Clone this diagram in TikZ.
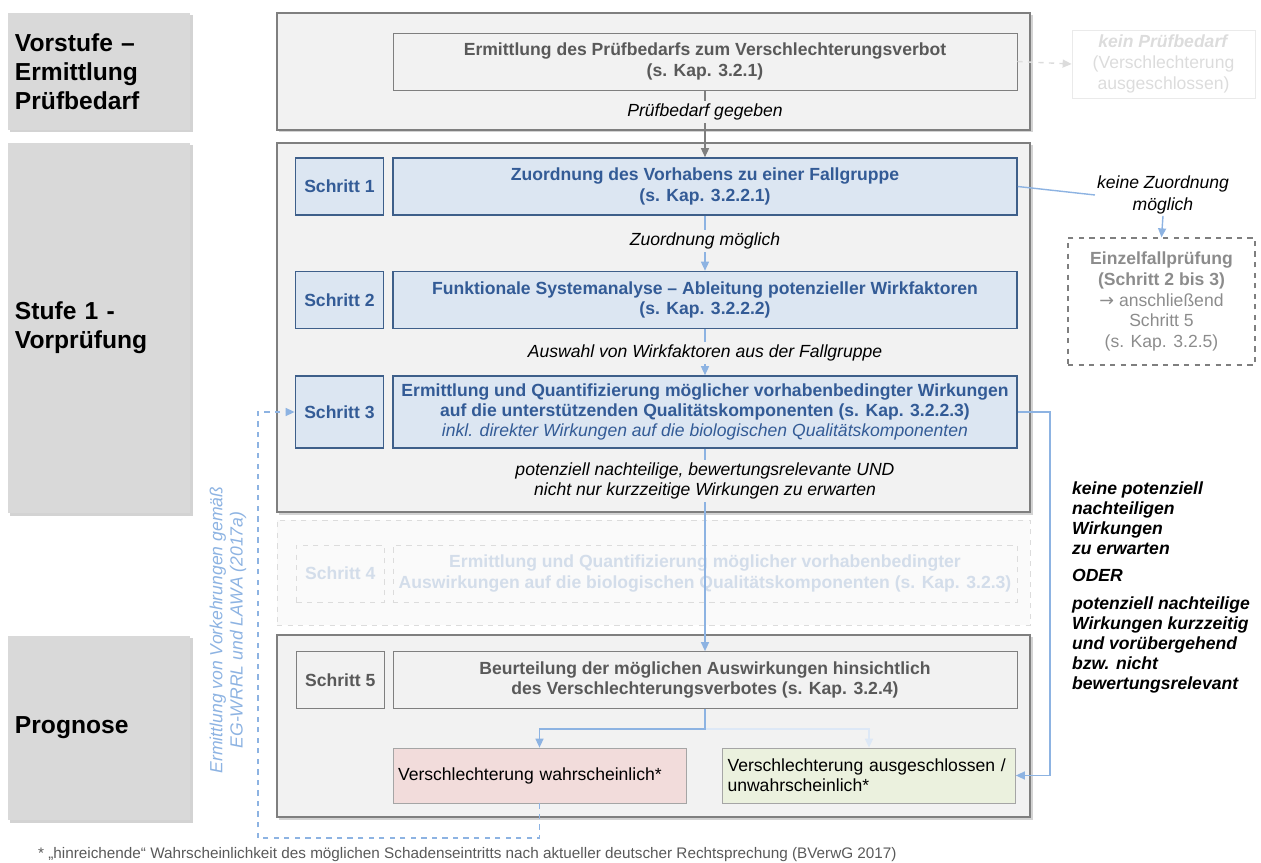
\documentclass[tikz,border=0pt]{standalone}
\usepackage{fontspec}
\setmainfont{Liberation Sans}
\newfontfamily\symfont{DejaVu Sans}
\usetikzlibrary{arrows.meta,positioning,shadows}
\definecolor{stagegray}{HTML}{D9D9D9}
\definecolor{panelfill}{HTML}{F2F2F2}
\definecolor{panelline}{HTML}{7F7F7F}
\definecolor{textgray}{HTML}{595959}
\definecolor{bluefill}{HTML}{DCE6F2}
\definecolor{bluedark}{HTML}{3E5F8A}
\definecolor{bluetext}{HTML}{335B96}
\definecolor{arrowblue}{HTML}{8DB3E2}
\definecolor{ghostline}{HTML}{DCDCDC}
\definecolor{ghostfill}{HTML}{FAFAFA}
\definecolor{ghosttext}{HTML}{D3DDEA}
\definecolor{redfill}{HTML}{F2DCDB}
\definecolor{greenfill}{HTML}{EBF1DE}
\definecolor{einzelgray}{HTML}{8C8C8C}

\begin{document}
\begin{tikzpicture}[x=0.2mm,y=-0.2mm,node distance=1.6mm, every node/.style={align=center,inner sep=1pt},
 stage/.style={fill=stagegray,minimum width=36.4mm,text width=33.6mm,align=left,font=\bfseries\fontsize{14}{16.5}\selectfont,drop shadow={shadow xshift=0.5mm,shadow yshift=-0.5mm,opacity=0.35}},
 panel/.style={draw=panelline,fill=panelfill,line width=0.7pt,minimum width=150.6mm,drop shadow={shadow xshift=0.5mm,shadow yshift=-0.5mm,opacity=0.35}},
 ghost/.style={draw=ghostline,dashed,fill=ghostfill,minimum width=150.6mm},
 main/.style={draw=panelline,fill=panelfill,minimum width=124.8mm,minimum height=11.4mm,font=\bfseries\fontsize{10}{11.5}\selectfont,text=textgray},
 bmain/.style={main,draw=bluedark,fill=bluefill,text=bluetext,line width=0.9pt},
 stepbox/.style={main,minimum width=17.6mm},
 bstep/.style={bmain,minimum width=17.6mm},
 lbl/.style={fill=panelfill,font=\itshape\fontsize{10}{11.5}\selectfont,inner sep=1.5pt},
 result/.style={draw=panelline!70,minimum width=58.6mm,minimum height=11mm,text width=56.6mm,align=left,font=\fontsize{10}{11.5}\selectfont},
 a/.style={-{Triangle[length=1.8mm,width=1.6mm]},draw=arrowblue,line width=0.8pt},
 ga/.style={a,draw=panelline}]
\useasboundingbox (0,0) rectangle (1261,863);
% Stufen links
\node[stage,minimum height=23.4mm] (st0) at (99,71.5) {Vorstufe --\\Ermittlung\\Prüfbedarf};
\node[stage,minimum height=74mm] (st1) at (99,328) {Stufe 1 -\\Vorprüfung};
\node[stage,minimum height=36.8mm] (st2) at (99,728) {Prognose};
% Rahmen
\node[panel,minimum height=23.4mm] (p0) at (653.5,71.5) {};
\node[panel,minimum height=73.8mm] (p1) at (653.5,327.5) {};
\node[ghost,minimum height=21mm] (p4) at (653.5,572.5) {};
\node[panel,minimum height=36.4mm] (p5) at (653.5,726) {};
% Vorstufe
\node[main] (m0) at (705,61.5) {Ermittlung des Prüfbedarfs zum Verschlechterungsverbot\\(s. Kap. 3.2.1)};
\node[draw=ghostline!60,minimum width=36.6mm,minimum height=13.6mm,text=ghostline,font=\fontsize{10}{12}\selectfont] (kp) at (1163.5,64) {\textbf{\textit{kein Prüfbedarf}}\\(Verschlechterung\\ausgeschlossen)};
% Schritte 1-3
\node[bmain] (m1) at (705,186.5) {Zuordnung des Vorhabens zu einer Fallgruppe\\(s. Kap. 3.2.2.1)};
\node[bstep,left=of m1] (s1) {Schritt 1};
\node[bmain] (m2) at (705,300) {Funktionale Systemanalyse -- Ableitung potenzieller Wirkfaktoren\\(s. Kap. 3.2.2.2)};
\node[bstep,left=of m2] (s2) {Schritt 2};
\node[bmain,minimum height=14.4mm] (m3) at (705,412) {Ermittlung und Quantifizierung möglicher vorhabenbedingter Wirkungen\\auf die unterstützenden Qualitätskomponenten (s. Kap. 3.2.2.3)\\\mdseries\itshape inkl. direkter Wirkungen auf die biologischen Qualitätskomponenten};
\node[bstep,left=of m3,minimum height=14.4mm] (s3) {Schritt 3};
% Schritt 4 (nicht aktiv)
\node[main,dashed,draw=ghostline,fill=ghostfill,text=ghosttext] (m4) at (705,573.5) {Ermittlung und Quantifizierung möglicher vorhabenbedingter\\Auswirkungen auf die biologischen Qualitätskomponenten (s. Kap. 3.2.3)};
\node[stepbox,dashed,draw=ghostline,fill=ghostfill,text=ghosttext,left=of m4] (s4) {Schritt 4};
% Schritt 5
\node[main] (m5) at (705,680) {Beurteilung der möglichen Auswirkungen hinsichtlich\\des Verschlechterungsverbotes (s. Kap. 3.2.4)};
\node[stepbox,left=of m5] (s5) {Schritt 5};
\node[result,fill=redfill] (rd) at (539.5,775.5) {Verschlechterung wahrscheinlich*};
\node[result,fill=greenfill] (gr) at (869,775.5) {Verschlechterung ausgeschlossen /\\unwahrscheinlich*};
% rechts
\node[font=\itshape\fontsize{10}{12}\selectfont] (kz) at (1163,195) {keine Zuordnung\\möglich};
\node[draw=panelline,dashed,line width=0.7pt,minimum width=37.4mm,minimum height=25.4mm,text=einzelgray,font=\fontsize{10}{11.7}\selectfont] (ez) at (1161.5,301.5) {\textbf{Einzelfallprüfung}\\\textbf{(Schritt 2 bis 3)}\\{\symfont→} anschließend\\Schritt 5\\(s. Kap. 3.2.5)};
\node[anchor=north west,align=left,font=\bfseries\itshape\fontsize{10}{11.4}\selectfont] (kw) at (1070,480) {keine potenziell\\nachteiligen\\Wirkungen\\zu erwarten\\[1.4mm]ODER\\[1.4mm]potenziell nachteilige\\Wirkungen kurzzeitig\\und vorübergehend\\bzw. nicht\\bewertungsrelevant};
% Verbindungen
\draw[ga] (m0) -- node[lbl,pos=0.32] {Prüfbedarf gegeben} (m1);
\draw[ga,dashed,draw=ghostline] (m0.east) -- (kp.west);
\draw[a] (m1) -- node[lbl,pos=0.46] {Zuordnung möglich} (m2);
\draw[a] (m2) -- node[lbl,pos=0.52] {Auswahl von Wirkfaktoren aus der Fallgruppe} (m3);
\draw[a] (m3) -- node[lbl,pos=0.16] {potenziell nachteilige, bewertungsrelevante UND\\nicht nur kurzzeitige Wirkungen zu erwarten} (m5);
\draw[a,-] (m1.east) -- (kz.west);
\draw[a] (kz.south) -- (ez.north);
\draw[a] (m3.east) -- (1050,412) |- (gr.east);
\draw[a,draw=arrowblue!30] (m5.south) -- ++(0,20) -| (gr.north);
\draw[a] (m5.south) -- ++(0,20) -| (rd.north);
\draw[a,dashed] (rd.south) |- (258,838) |- (s3.west);
\node[rotate=90,text=arrowblue,font=\itshape\fontsize{10}{11.5}\selectfont] (vk) at (228,630) {Ermittlung von Vorkehrungen gemäß\\EG-WRRL und LAWA (2017a)};
% Fussnote
\node[anchor=west,text=textgray,font=\fontsize{8.7}{10}\selectfont] (fn) at (36,855) {* „hinreichende“ Wahrscheinlichkeit des möglichen Schadenseintritts nach aktueller deutscher Rechtsprechung (BVerwG 2017)};
\end{tikzpicture}
\end{document}
